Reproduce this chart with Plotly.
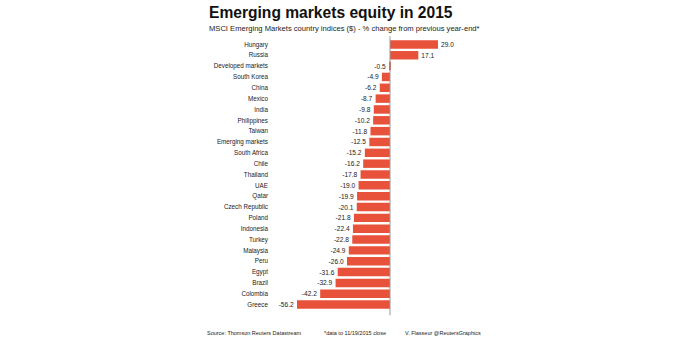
import plotly.graph_objects as go

countries = ["Hungary", "Russia", "Developed markets", "South Korea", "China", "Mexico",
             "India", "Philippines", "Taiwan", "Emerging markets", "South Africa", "Chile",
             "Thailand", "UAE", "Qatar", "Czech Republic", "Poland", "Indonesia", "Turkey",
             "Malaysia", "Peru", "Egypt", "Brazil", "Colombia", "Greece"]
changes = [29.0, 17.1, -0.5, -4.9, -6.2, -8.7, -9.8, -10.2, -11.8, -12.5, -15.2, -16.2,
           -17.8, -19.0, -19.9, -20.1, -21.8, -22.4, -22.8, -24.9, -26.0, -31.6, -32.9,
           -42.2, -56.2]

W, H = 692, 338
FONT = "Liberation Sans, Arial, sans-serif"
BAR = "#e8523a"
PL, PR = 297, 438          # plot area left/right in px
PW = PR - PL

fig = go.Figure(go.Bar(
    x=changes, y=countries, orientation="h",
    marker=dict(color=BAR, line=dict(width=0)),
    width=0.78,
    text=[f"{v:.1f}" for v in changes], textposition="outside",
    textfont=dict(family=FONT, size=6.6, color="#222"),
    cliponaxis=False,
))

n = len(countries)
fig.update_layout(
    width=W, height=H,
    margin=dict(l=PL, r=W - PR, t=39, b=H - 310, pad=0),
    paper_bgcolor="white", plot_bgcolor="white",
    showlegend=False,
    xaxis=dict(range=[-56.2, 29.0], visible=False, showgrid=False, zeroline=False),
    yaxis=dict(range=[n - 0.5, -0.5], showgrid=False, zeroline=False, showline=False,
               ticks="", tickfont=dict(family=FONT, size=6.3, color="#222"),
               ticklabelstandoff=28, automargin=False),
    font=dict(family=FONT),
)

# vertical zero line
fig.add_shape(type="line", xref="x", yref="paper", x0=0, x1=0, y0=-0.02, y1=1.01,
              line=dict(color="#999", width=1))

fig.add_annotation(text="<b>Emerging markets equity in 2015</b>", xref="paper", yref="paper",
                   x=(207 - PL) / PW, y=1, xanchor="left", yanchor="middle",
                   yshift=(39 - 12), showarrow=False,
                   font=dict(family=FONT, size=15.6, color="#111"))
fig.add_annotation(text="MSCI Emerging Markets country indices ($) - % change from previous year-end*",
                   xref="paper", yref="paper", x=(207 - PL) / PW, y=1,
                   xanchor="left", yanchor="middle", yshift=(39 - 28), showarrow=False,
                   font=dict(family=FONT, size=7.6, color="#222"))

footer = [("Source: Thomson Reuters Datastream", 205),
          ("*data to 11/19/2015 close", 322),
          ("V. Flasseur @ReutersGraphics", 403)]
for txt, px in footer:
    fig.add_annotation(text=txt, xref="paper", yref="paper", x=(px - PL) / PW, y=0,
                       xanchor="left", yanchor="middle", yshift=-(333 - 310),
                       showarrow=False, font=dict(family=FONT, size=5.5, color="#222"))

fig.write_html("out.html")
